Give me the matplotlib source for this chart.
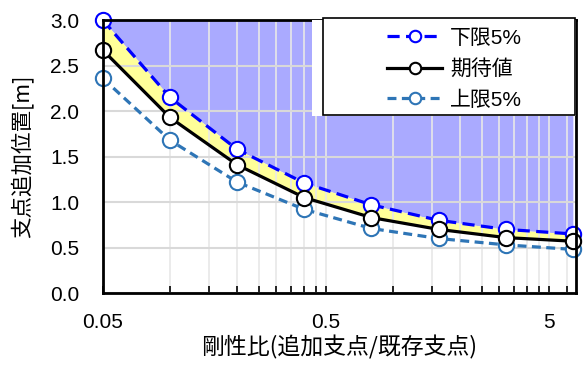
import matplotlib.pyplot as plt
from matplotlib.patches import Rectangle
from matplotlib.ticker import FixedLocator, NullFormatter, FuncFormatter

plt.rcParams['font.family'] = ['Liberation Sans', 'Noto Sans CJK JP']

# data
stiffness_ratio = [0.05, 0.1, 0.2, 0.4, 0.8, 1.6, 3.2, 6.4]
lower_5 = [3.00, 2.15, 1.58, 1.21, 0.97, 0.80, 0.70, 0.65]
expected = [2.67, 1.93, 1.41, 1.05, 0.83, 0.70, 0.61, 0.57]
upper_5 = [2.36, 1.68, 1.22, 0.92, 0.71, 0.60, 0.53, 0.48]

x_major = [0.05, 0.5, 5]
x_minor = [0.05 * m * d for d in (1, 10) for m in range(2, 10)] + [6.0]
y_ticks = [0.0, 0.5, 1.0, 1.5, 2.0, 2.5, 3.0]

fig = plt.figure(figsize=(5.84, 3.65), dpi=100)
ax = fig.add_axes([0.176, 0.197, 0.81, 0.748])

# shaded regions
ax.fill_between(stiffness_ratio, lower_5, 3.0, color='#aaaaff', lw=0, zorder=1)
ax.fill_between(stiffness_ratio, expected, lower_5, color='#ffff99', lw=0, zorder=1)

ax.plot(stiffness_ratio, lower_5, color='#0000ff', lw=2.3, ls=(0, (3.8, 2)),
        marker='o', ms=11, mfc='white', mec='#0000ff', mew=1.5, label='下限5%',
        zorder=5, clip_on=False)
ax.plot(stiffness_ratio, expected, color='black', lw=2.3,
        marker='o', ms=11, mfc='white', mec='black', mew=1.5, label='期待値',
        zorder=5, clip_on=False)
ax.plot(stiffness_ratio, upper_5, color='#2e75b6', lw=2.3, ls=(0, (2.8, 1.7)),
        marker='o', ms=11, mfc='white', mec='#2e75b6', mew=1.5, label='上限5%',
        zorder=4, clip_on=False)

ax.set_xscale('log')
ax.set_xlim(0.05, 6.6)
ax.set_ylim(0, 3.0)
ax.xaxis.set_major_locator(FixedLocator(x_major))
ax.xaxis.set_minor_locator(FixedLocator(x_minor))
ax.xaxis.set_major_formatter(FuncFormatter(lambda v, p: f'{v:g}'))
ax.xaxis.set_minor_formatter(NullFormatter())
ax.set_yticks(y_ticks)
ax.yaxis.set_major_formatter(FuncFormatter(lambda v, p: f'{v:.1f}'))

ax.grid(True, axis='y', color='#d9d9d9', lw=1.5)
ax.grid(True, axis='x', which='both', color='#e8e8e8', lw=1.2)
ax.set_axisbelow(False)
for ln in ax.get_xgridlines() + ax.get_ygridlines():
    ln.set_zorder(2)

ax.tick_params(axis='x', which='both', direction='in', length=5, width=1.2,
               labelsize=15, pad=14)
ax.tick_params(axis='y', length=0, labelsize=15, pad=17)
for s in ax.spines.values():
    s.set_linewidth(2)
    s.set_zorder(6)

ax.set_xlabel('剛性比(追加支点/既存支点)', fontsize=16.5, family=['Noto Sans CJK JP'], labelpad=3)
ax.set_ylabel('支点追加位置[m]', fontsize=15.5, family=['Noto Sans CJK JP'], labelpad=12)

# legend box: white backing plus framed box, legend content centred inside
ax.add_patch(Rectangle((0.442, 0.648), 0.558, 0.352, transform=ax.transAxes,
                       facecolor='white', edgecolor='none', zorder=8))
ax.add_patch(Rectangle((0.465, 0.652), 0.533, 0.355, transform=ax.transAxes,
                       facecolor='white', edgecolor='black', lw=1.2, zorder=9,
                       clip_on=False))
leg = ax.legend(loc='center', bbox_to_anchor=(0.744, 0.82), frameon=False,
                handlelength=2.6, handletextpad=0.4, labelspacing=0.55,
                markerscale=0.75, borderpad=0,
                prop={'family': ['Liberation Sans', 'Noto Sans CJK JP'], 'size': 15})
leg.set_zorder(10)

fig.savefig('out.png', dpi=100)
